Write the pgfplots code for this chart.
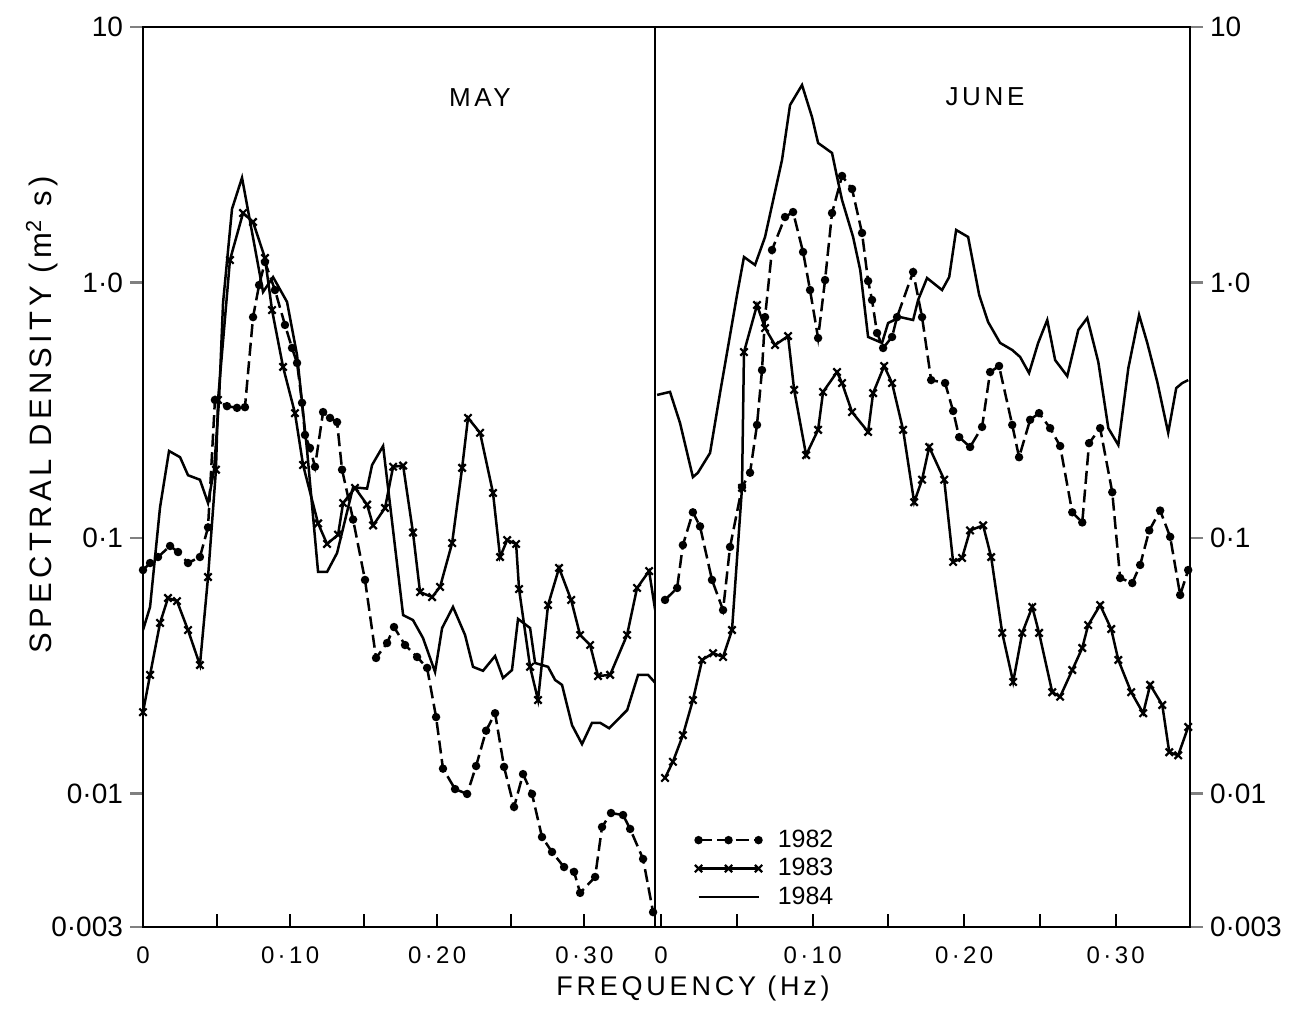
\documentclass[border=0pt]{standalone}
\usepackage{fontspec}
\setmainfont{Liberation Sans}
\newfontfamily\spaced[LetterSpace=14]{Liberation Sans}
\usepackage{pgfplots}
\pgfplotsset{compat=1.18}
\usepackage{pgfplotstable}

\tikzset{
  y82/.style={black, line width=1.25pt, dash pattern=on 6.5pt off 2.8pt, mark=*, mark size=1.45pt, mark options={solid}},
  y83/.style={black, line width=1.25pt, solid, mark=x, mark size=2.6pt, mark options={solid,line width=1.1pt}},
  y84/.style={black, line width=1.25pt, solid},
}

\pgfplotstableread{
x y
0 0.0749
0.0048 0.0798
0.0102 0.0842
0.0184 0.0930
0.0238 0.0881
0.0306 0.0798
0.0387 0.0842
0.0442 0.110
0.0489 0.347
0.0571 0.328
0.0639 0.323
0.0693 0.325
0.0748 0.732
0.0789 0.977
0.0829 1.202
0.0897 0.934
0.0965 0.682
0.1013 0.554
0.1047 0.484
0.1081 0.338
0.1101 0.253
0.1135 0.225
0.1169 0.190
0.1224 0.311
0.1271 0.295
0.1319 0.284
0.1353 0.185
0.1428 0.118
0.1509 0.0685
0.1584 0.0339
0.1659 0.0388
0.1706 0.0448
0.1781 0.0381
0.1863 0.0342
0.1931 0.0310
0.1992 0.0199
0.2039 0.0125
0.2121 0.0104
0.2203 0.00995
0.2264 0.0128
0.2332 0.0176
0.2393 0.0206
0.2454 0.0127
0.2522 0.00885
0.2583 0.0119
0.2644 0.00995
0.2712 0.00675
0.2780 0.00590
0.2862 0.00515
0.2930 0.00493
0.2971 0.00408
0.3073 0.00471
0.3120 0.00739
0.3181 0.00838
0.3263 0.00823
0.3311 0.00726
0.3399 0.00554
0.3467 0.00343
0.3481 0.00337
}\mayA

\pgfplotstableread{
x y
0 0.0208
0.0048 0.0291
0.0116 0.0465
0.0170 0.0582
0.0231 0.0566
0.0306 0.0436
0.0387 0.0318
0.0442 0.0703
0.0496 0.185
0.0510 0.347
0.0591 1.224
0.0680 1.87
0.0748 1.725
0.0829 1.247
0.0877 0.780
0.0952 0.467
0.1033 0.308
0.1088 0.193
0.1190 0.114
0.1251 0.0947
0.1326 0.103
0.1360 0.137
0.1441 0.157
0.1523 0.135
0.1564 0.112
0.1645 0.131
0.1700 0.190
0.1768 0.192
0.1835 0.105
0.1883 0.0614
0.1965 0.0587
0.2019 0.0643
0.2101 0.0955
0.2169 0.188
0.2209 0.295
0.2291 0.258
0.2379 0.150
0.2427 0.0842
0.2475 0.0981
0.2536 0.0947
0.2556 0.0631
0.2631 0.0313
0.2685 0.0232
0.2753 0.0546
0.2828 0.0763
0.2910 0.0572
0.2971 0.0417
0.3039 0.0381
0.3093 0.0288
0.3175 0.0291
0.3290 0.0417
0.3358 0.0637
0.3440 0.0742
0.3481 0.0522
}\mayB

\pgfplotstableread{
x y
0 0.0436
0.0048 0.0537
0.0116 0.132
0.0177 0.219
0.0252 0.207
0.0306 0.176
0.0387 0.169
0.0442 0.137
0.0483 0.185
0.0517 0.347
0.0544 0.831
0.0605 1.94
0.0673 2.57
0.0816 0.918
0.0884 1.05
0.0979 0.839
0.1047 0.520
0.1115 0.221
0.1190 0.0736
0.1251 0.0736
0.1319 0.0873
0.1428 0.158
0.1523 0.156
0.1557 0.193
0.1632 0.229
0.1768 0.0499
0.1835 0.0477
0.1903 0.0406
0.1985 0.0299
0.2033 0.0444
0.2107 0.0537
0.2189 0.0417
0.2243 0.0313
0.2311 0.0302
0.2393 0.0345
0.2447 0.0283
0.2508 0.0304
0.2549 0.0482
0.2631 0.0444
0.2665 0.0324
0.2753 0.0313
0.2801 0.0278
0.2848 0.0266
0.2916 0.0185
0.2984 0.0156
0.3052 0.0189
0.3107 0.0189
0.3168 0.0180
0.3291 0.0212
0.3365 0.0291
0.3433 0.0291
0.3481 0.0271
}\mayC

\pgfplotstableread{
x y
0.0026 0.0572
0.0106 0.0637
0.0144 0.0938
0.0210 0.126
0.0257 0.111
0.0336 0.0685
0.0409 0.0522
0.0455 0.0922
0.0534 0.158
0.0587 0.180
0.0633 0.277
0.0666 0.454
0.0686 0.732
0.0732 1.340
0.0818 1.804
0.0871 1.887
0.0937 1.316
0.0983 0.934
0.1036 0.606
0.1082 1.022
0.1128 1.87
0.1194 2.611
0.1260 2.322
0.1326 1.562
0.1366 1.013
0.1392 0.854
0.1425 0.634
0.1465 0.554
0.1524 0.612
0.1557 0.732
0.1663 1.099
0.1722 0.732
0.1782 0.415
0.1874 0.404
0.1927 0.314
0.1967 0.248
0.2039 0.227
0.2118 0.272
0.2171 0.446
0.2230 0.471
0.2317 0.277
0.2362 0.207
0.2435 0.290
0.2494 0.308
0.2567 0.269
0.2633 0.229
0.2713 0.126
0.2779 0.115
0.2824 0.235
0.2897 0.269
0.2977 0.151
0.3029 0.0697
0.3109 0.0666
0.3161 0.0784
0.3221 0.107
0.3293 0.128
0.3359 0.101
0.3425 0.0598
0.3478 0.0749
}\junA

\pgfplotstableread{
x y
0.0026 0.0115
0.0078 0.0133
0.0144 0.0169
0.0210 0.0232
0.0271 0.0333
0.0343 0.0354
0.0409 0.0342
0.0468 0.0436
0.0534 0.157
0.0547 0.534
0.0633 0.816
0.0686 0.663
0.0752 0.569
0.0838 0.617
0.0878 0.380
0.0957 0.211
0.1036 0.265
0.1069 0.373
0.1161 0.446
0.1194 0.404
0.1260 0.311
0.1366 0.260
0.1399 0.369
0.1472 0.471
0.1524 0.404
0.1597 0.265
0.1670 0.138
0.1722 0.169
0.1769 0.227
0.1868 0.169
0.1927 0.0805
0.1986 0.0835
0.2039 0.107
0.2125 0.112
0.2178 0.0842
0.2251 0.0425
0.2323 0.0273
0.2383 0.0425
0.2449 0.0537
0.2494 0.0425
0.2581 0.0249
0.2633 0.0239
0.2713 0.0304
0.2779 0.0371
0.2818 0.0456
0.2897 0.0546
0.2970 0.0440
0.3017 0.0333
0.3102 0.0249
0.3181 0.0206
0.3227 0.0266
0.3307 0.0222
0.3353 0.0145
0.3412 0.0141
0.3478 0.0182
}\junB

\pgfplotstableread{
x y
-0.0026 0.363
0.0059 0.373
0.0125 0.282
0.0210 0.173
0.0243 0.180
0.0323 0.215
0.0389 0.369
0.0501 0.893
0.0547 1.258
0.0620 1.171
0.0686 1.507
0.0798 3.016
0.0851 4.95
0.0930 5.93
0.0996 4.44
0.1036 3.516
0.1128 3.213
0.1161 2.588
0.1194 2.103
0.1267 1.507
0.1314 1.119
0.1366 0.612
0.1458 0.580
0.1498 0.694
0.1578 0.732
0.1663 0.713
0.1696 0.854
0.1755 1.041
0.1854 0.934
0.1901 1.05
0.1947 1.605
0.2026 1.507
0.2099 0.893
0.2158 0.700
0.2237 0.580
0.2317 0.544
0.2369 0.511
0.2428 0.442
0.2488 0.580
0.2548 0.713
0.2600 0.497
0.2680 0.430
0.2753 0.652
0.2812 0.726
0.2885 0.488
0.2951 0.269
0.3017 0.231
0.3083 0.462
0.3154 0.746
0.3208 0.580
0.3274 0.408
0.3346 0.258
0.3399 0.386
0.3439 0.404
0.3478 0.415
}\junC

\begin{document}
\begin{tikzpicture}
\useasboundingbox (0,0) rectangle (647.5pt,510.5pt);
\begin{axis}[at={(71.5pt,47pt)}, anchor=south west,
    scale only axis, width=256pt, height=450pt,
    xmin=0, xmax=0.348,
    ymode=log, ymin=0.003, ymax=10,
    axis line style={line width=1.4pt},
    ytick={0.003,0.01,0.1,1,10},
    yticklabels={0·003,0·01,0·1,1·0,10},
    yminorticks=false,
    xtick={0,0.1,0.2,0.3},
    xticklabels={0,0·10,0·20,0·30},
    xtick style={draw=none},
    ytick style={line width=1.2pt},
    tick align=outside, major tick length=6.5pt,
    yticklabel style={font=\fontsize{14}{16}\selectfont},
    xticklabel style={font=\spaced\fontsize{12}{14}\selectfont, yshift=0pt},
    ytick pos=left]
\addplot[y82] table {\mayA};
\addplot[y83] table {\mayB};
\addplot[y84] table {\mayC};
\draw[line width=1pt] (axis cs:0.05,0.003) -- ++(0pt,6.5pt);
\draw[line width=1pt] (axis cs:0.1,0.003) -- ++(0pt,6.5pt);
\draw[line width=1pt] (axis cs:0.15,0.003) -- ++(0pt,6.5pt);
\draw[line width=1pt] (axis cs:0.2,0.003) -- ++(0pt,6.5pt);
\draw[line width=1pt] (axis cs:0.25,0.003) -- ++(0pt,6.5pt);
\draw[line width=1pt] (axis cs:0.3,0.003) -- ++(0pt,6.5pt);
\end{axis}
\begin{axis}[at={(327.5pt,47pt)}, anchor=south west,
    scale only axis, width=267.5pt, height=450pt,
    xmin=-0.004, xmax=0.349,
    ymode=log, ymin=0.003, ymax=10,
    axis line style={line width=1.4pt},
    ytick={0.003,0.01,0.1,1,10},
    yticklabels={0·003,0·01,0·1,1·0,10},
    yminorticks=false,
    xtick={0,0.1,0.2,0.3},
    xticklabels={0,0·10,0·20,0·30},
    xtick style={draw=none},
    ytick style={line width=1.2pt},
    tick align=outside, major tick length=6.5pt,
    yticklabel style={font=\fontsize{14}{16}\selectfont},
    xticklabel style={font=\spaced\fontsize{12}{14}\selectfont, yshift=0pt},
    ytick pos=right, yticklabel pos=right,
    legend style={at={(0.07,0.115)}, anchor=north west, draw=none, fill=none,
      font=\fontsize{12.5}{14}\selectfont, row sep=0pt, inner sep=1pt},
    legend cell align=left,
    legend image code/.code={\draw[mark repeat=1,#1] plot coordinates {(0pt,0pt) (15pt,0pt) (30pt,0pt)}; \path (37pt,0pt);}]
\addplot[y82] table {\junA};
\addlegendentry{1982}
\addplot[y83] table {\junB};
\addlegendentry{1983}
\addplot[y84] table {\junC};
\addlegendentry{1984}
\draw[line width=1pt] (axis cs:0,0.003) -- ++(0pt,6.5pt);
\draw[line width=1pt] (axis cs:0.05,0.003) -- ++(0pt,6.5pt);
\draw[line width=1pt] (axis cs:0.1,0.003) -- ++(0pt,6.5pt);
\draw[line width=1pt] (axis cs:0.15,0.003) -- ++(0pt,6.5pt);
\draw[line width=1pt] (axis cs:0.2,0.003) -- ++(0pt,6.5pt);
\draw[line width=1pt] (axis cs:0.25,0.003) -- ++(0pt,6.5pt);
\draw[line width=1pt] (axis cs:0.3,0.003) -- ++(0pt,6.5pt);
\end{axis}
\node[font=\spaced\fontsize{13}{15}\selectfont] at (240pt,461.5pt) {MAY};
\node[font=\spaced\fontsize{13}{15}\selectfont] at (492.5pt,462pt) {JUNE};
\node[font=\spaced\fontsize{15.5}{18}\selectfont, rotate=90] at (21pt,303pt) {SPECTRAL DENSITY (m\textsuperscript{2} s)};
\node[font=\spaced\fontsize{13.5}{15}\selectfont] at (346.5pt,16pt) {FREQUENCY (Hz)};
\end{tikzpicture}
\end{document}
